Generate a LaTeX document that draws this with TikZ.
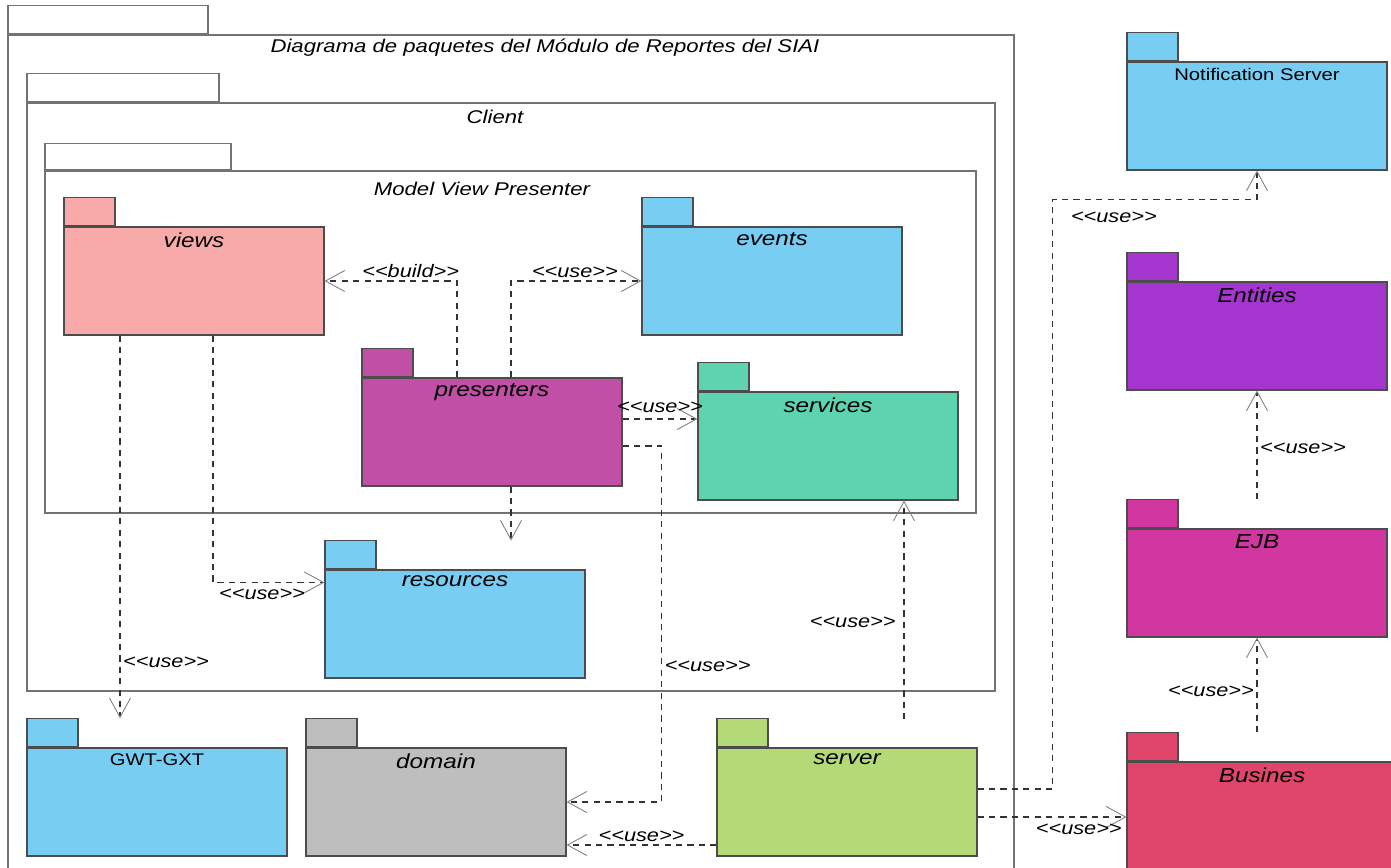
\documentclass[tikz,border=0pt]{standalone}
\usepackage{fontspec}
\newfontfamily\umlfont{Liberation Sans}[FakeStretch=1.2]
\usepackage{tikz}
\usetikzlibrary{arrows.meta, positioning, calc}

\definecolor{viewsC}{HTML}{F8AAAB}
\definecolor{blueC}{HTML}{78CDF2}
\definecolor{presC}{HTML}{C04FA5}
\definecolor{servC}{HTML}{5ED3B0}
\definecolor{domC}{HTML}{BEBEBE}
\definecolor{serverC}{HTML}{B3DA77}
\definecolor{entC}{HTML}{A436CF}
\definecolor{ejbC}{HTML}{D136A1}
\definecolor{busC}{HTML}{E0456B}

\begin{document}
\begin{tikzpicture}[
  x=0.02cm, y=-0.02cm,
  frame/.style={draw=black!55, line width=0.7pt, fill=white, inner sep=0pt},
  ttl/.style={font=\umlfont\itshape\fontsize{10.5pt}{12pt}\selectfont, inner sep=0pt},
  pkglbl/.style={anchor=north, inner sep=3.5pt, font=\umlfont\itshape\fontsize{11.5pt}{13pt}\selectfont},
  pkg/.style={draw=black!70, line width=0.7pt, minimum width=5.2cm, minimum height=2.16cm,
              inner sep=0pt, label={[pkglbl]north:#1}},
  tab/.style={draw=black!70, line width=0.7pt, minimum width=1.02cm, minimum height=0.56cm,
              inner sep=0pt, anchor=south west},
  lbl/.style={font=\umlfont\itshape\fontsize{10.3pt}{12pt}\selectfont, inner sep=1.5pt},
  dep/.style={draw=black!80, line width=0.6pt, dash pattern=on 3.5pt off 3pt,
              -{Straight Barb[length=11pt, width=12pt, line width=0.5pt, color=black!50]}},
]
  \useasboundingbox (0,0) rectangle (1391,867);

  \node[frame, minimum width=20.12cm, minimum height=17.3cm] (sistema) at (511,467.5) {};
  \node[frame, anchor=south west, minimum width=4cm, minimum height=0.56cm] (sistematab) at (sistema.north west) {};
  \node[ttl] (sistemattl) at (545,48) {Diagrama de paquetes del Módulo de Reportes del SIAI};

  \node[frame, minimum width=19.36cm, minimum height=11.76cm] (client) at (511,397) {};
  \node[frame, anchor=south west, minimum width=3.84cm, minimum height=0.56cm] (clienttab) at (client.north west) {};
  \node[ttl] (clientttl) at (495,117) {Client};

  \node[frame, minimum width=18.62cm, minimum height=6.84cm] (mvp) at (510.5,342) {};
  \node[frame, anchor=south west, minimum width=3.72cm, minimum height=0.52cm] (mvptab) at (mvp.north west) {};
  \node[ttl] (mvpttl) at (482,189) {Model View Presenter};

  \node[pkg=views, fill=viewsC] (views) at (194,281) {};
  \node[tab, fill=viewsC] (viewstab) at (views.north west) {};
  \node[pkg=events, fill=blueC] (events) at (772,281) {};
  \node[tab, fill=blueC] (eventstab) at (events.north west) {};
  \node[pkg=presenters, fill=presC] (presenters) at (492,432) {};
  \node[tab, fill=presC] (presenterstab) at (presenters.north west) {};
  \node[pkg=services, fill=servC] (services) at (828,446) {};
  \node[tab, fill=servC] (servicestab) at (services.north west) {};
  \node[pkg=resources, fill=blueC] (resources) at (455,624) {};
  \node[tab, fill=blueC] (resourcestab) at (resources.north west) {};

  \node[pkg={\umlfont\upshape\fontsize{9.6pt}{11pt}\selectfont GWT-GXT}, fill=blueC] (gwt) at (157,802) {};
  \node[tab, fill=blueC] (gwttab) at (gwt.north west) {};
  \node[pkg=domain, fill=domC] (domain) at (436,802) {};
  \node[tab, fill=domC] (domaintab) at (domain.north west) {};
  \node[pkg=server, fill=serverC] (server) at (847,802) {};
  \node[tab, fill=serverC] (servertab) at (server.north west) {};

  \node[pkg={\umlfont\upshape\fontsize{9.6pt}{11pt}\selectfont Notification Server}, fill=blueC] (notif) at (1257,116) {};
  \node[tab, fill=blueC] (notiftab) at (notif.north west) {};
  \node[pkg=Entities, fill=entC] (entities) at (1257,336) {};
  \node[tab, fill=entC] (entitiestab) at (entities.north west) {};
  \node[pkg=EJB, fill=ejbC] (ejb) at (1257,583) {};
  \node[tab, fill=ejbC] (ejbtab) at (ejb.north west) {};
  \node[pkg=Busines, fill=busC, minimum width=5.4cm] (busines) at (1262,816) {};
  \node[tab, fill=busC] (businestab) at (busines.north west) {};

  \coordinate (buildout) at ($(presenters.north)+(-35,0)$);
  \coordinate (eventsout) at ($(presenters.north)+(19,0)$);
  \coordinate (servout) at ($(presenters.east)+(0,-13)$);
  \coordinate (domout) at ($(presenters.east)+(0,14)$);
  \coordinate (resin) at ($(presenters.south)+(19,54)$);
  \coordinate (resout) at ($(views.south)+(19,0)$);
  \coordinate (gwtout) at ($(views.south)+(-74,0)$);
  \coordinate (srvup) at ($(server.north)+(57,-28)$);
  \coordinate (srvdom) at ($(server.west)+(0,43)$);
  \coordinate (srvnotif) at ($(server.east)+(0,-13)$);
  \coordinate (srvbus) at ($(server.east)+(0,15)$);

  \draw[dep] (buildout) |- (views.east) node[lbl, above, pos=0.675] (buildlbl) {<<build>>};
  \draw[dep] (eventsout) |- (events.west) node[lbl, above, pos=0.745] (eventslbl) {<<use>>};
  \draw[dep] (servout) -- (servout -| services.west) node[lbl, above=2pt, pos=0.5] (servlbl) {<<use>>};
  \draw[dep] (domout) -- ++(39,0) |- (domain.east) node[lbl, right, pos=0.31] (domlbl) {<<use>>};
  \draw[dep] (presenters.south -| resin) -- (resin);
  \draw[dep] (resout) |- ($(resources.north west)+(0,13)$) node[lbl, below=2pt, pos=0.72] (reslbl) {<<use>>};
  \draw[dep] (gwtout) -- (gwtout |- gwttab.north) node[lbl, right, pos=0.855] (gwtlbl) {<<use>>};
  \draw[dep] (srvup) -- (srvup |- services.south) node[lbl, left=3pt, pos=0.445] (srvuplbl) {<<use>>};
  \draw[dep] (srvdom) -- (srvdom -| domain.east) node[lbl, above, pos=0.5] (srvdomlbl) {<<use>>};
  \draw[dep] (srvnotif) -- ++(75,0) |- ($(notif.south)+(0,29)$) node[lbl, below=5pt, pos=0.65] (notiflbl) {<<use>>} -- (notif.south);
  \draw[dep] (srvbus) -- (srvbus -| busines.west) node[lbl, below=2pt, pos=0.68] (buslbl) {<<use>>};
  \draw[dep] (ejbtab.north -| entities.south) -- (entities.south) node[lbl, right, pos=0.47] (entlbl) {<<use>>};
  \draw[dep] (businestab.north -| ejb.south) -- (ejb.south) node[lbl, left, pos=0.43] (ejblbl) {<<use>>};
\end{tikzpicture}
\end{document}
